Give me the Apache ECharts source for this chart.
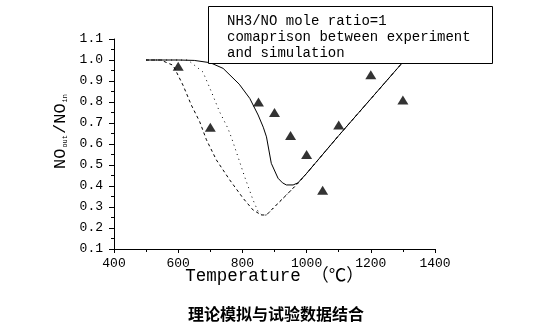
<!DOCTYPE html>
<html>
<head>
<meta charset="utf-8">
<script src="https://cdn.jsdelivr.net/npm/echarts@6/dist/echarts.min.js"></script>
<style>html,body{margin:0;padding:0;background:#fff;}#c{width:554px;height:329px;}</style>
</head>
<body>
<div id="c"></div>
<script>
// Simulation curve 1 (solid)
const solidX = [500, 600, 650, 700, 740, 790, 823, 849, 865, 875, 890, 911, 925, 937, 958, 973, 1000, 1100, 1200, 1300];
const solidY = [1.0, 1.0, 0.998, 0.987, 0.96, 0.885, 0.817, 0.738, 0.68, 0.634, 0.508, 0.437, 0.415, 0.405, 0.405, 0.415, 0.46, 0.64, 0.815, 0.99];
// Simulation curve 2 (dashed)
const dashX = [500, 545, 584, 615, 641, 667, 688, 719, 760, 802, 833, 859, 875, 906, 937, 973, 1000, 1100, 1200, 1300];
const dashY = [1.0, 1.0, 0.975, 0.88, 0.785, 0.706, 0.62, 0.524, 0.43, 0.342, 0.286, 0.262, 0.262, 0.31, 0.357, 0.413, 0.46, 0.64, 0.815, 0.99];
// Simulation curve 3 (dotted)
const dotX = [500, 630, 677, 703, 729, 755, 766, 786, 807, 833, 849, 862, 875, 906, 937, 973, 1000, 1100, 1200, 1300];
const dotY = [1.0, 1.0, 0.943, 0.85, 0.753, 0.674, 0.63, 0.54, 0.444, 0.334, 0.278, 0.26, 0.262, 0.31, 0.357, 0.413, 0.46, 0.64, 0.815, 0.99];
// Experiment points (triangles)
const expX = [600, 700, 850, 900, 950, 1000, 1050, 1100, 1200, 1300];
const expY = [0.97, 0.68, 0.80, 0.75, 0.64, 0.55, 0.38, 0.69, 0.93, 0.81];

const titleText = '理论模拟与试验数据结合';
const xName = 'Temperature （℃）';
const boxLines = ['NH3/NO mole ratio=1', 'comaprison between experiment', 'and simulation'];

const zip = (xs, ys) => xs.map((x, i) => [x, ys[i]]);
const mono = '"Liberation Mono", "DejaVu Sans Mono", monospace';

const chart = echarts.init(document.getElementById('c'), null, {renderer: 'canvas'});
chart.setOption({
  animation: false,
  backgroundColor: '#fff',
  title: {
    text: titleText,
    left: 183, top: 301,
    textStyle: {fontFamily: '"Noto Sans CJK SC"', fontWeight: 'bold', fontSize: 16, color: '#000'}
  },
  grid: {left: 114, top: 39, width: 321, height: 210, containLabel: false},
  xAxis: {
    type: 'value', min: 400, max: 1400, interval: 200,
    name: xName, nameLocation: 'middle', nameGap: 19, nameMoveOverlap: false,
    nameTextStyle: {fontFamily: '"Liberation Mono", "Noto Sans CJK SC", monospace', fontSize: 17.5, color: '#000'},
    axisLine: {show: true, lineStyle: {color: '#000', width: 1}},
    axisTick: {show: true, inside: false, length: 4, lineStyle: {color: '#000'}},
    minorTick: {show: true, splitNumber: 2, length: 3, lineStyle: {color: '#000'}},
    splitLine: {show: false},
    axisLabel: {color: '#000', fontFamily: mono, fontSize: 13, margin: 8, formatter: v => String(v)}
  },
  yAxis: {
    type: 'value', min: 0.1, max: 1.1, interval: 0.1,
    name: '{m|NO}{s|out}{m|/NO}{s|in}', nameLocation: 'middle', nameGap: 33, nameRotate: 90,
    nameTextStyle: {
      color: '#000',
      padding: [0, 0, 0, 26],
      rich: {
        m: {fontFamily: mono, fontSize: 17, lineHeight: 17, verticalAlign: 'top', color: '#000'},
        s: {fontFamily: mono, fontSize: 7, lineHeight: 8, padding: [16, 1, 0, 1], verticalAlign: 'bottom', color: '#000'}
      }
    },
    axisLine: {show: true, lineStyle: {color: '#000', width: 1}},
    axisTick: {show: true, inside: false, length: 5, lineStyle: {color: '#000'}},
    minorTick: {show: true, splitNumber: 2, length: 3, lineStyle: {color: '#000'}},
    splitLine: {show: false},
    axisLabel: {color: '#000', fontFamily: mono, fontSize: 13, margin: 11, formatter: v => v.toFixed(1)}
  },
  series: [
    {type: 'line', data: zip(solidX, solidY), symbol: 'none', silent: true,
     lineStyle: {color: '#000', width: 1, type: 'solid'}},
    {type: 'line', data: zip(dashX, dashY), symbol: 'none', silent: true,
     lineStyle: {color: '#000', width: 1, type: [3, 3]}},
    {type: 'line', data: zip(dotX, dotY), symbol: 'none', silent: true,
     lineStyle: {color: '#000', width: 1, type: [1, 4]}},
    {type: 'scatter', data: zip(expX, expY), symbol: 'triangle', symbolSize: [11, 9], silent: true,
     itemStyle: {color: '#000'}}
  ],
  graphic: [
    {type: 'rect', z: 100, shape: {x: 208.5, y: 6.5, width: 284, height: 57},
     style: {fill: '#fff', stroke: '#000', lineWidth: 1}},
    {type: 'text', z: 101, x: 227, y: 13,
     style: {text: boxLines.join('\n'), font: '14px "Liberation Mono", monospace', lineHeight: 16, fill: '#000'}}
  ]
});
</script>
</body>
</html>
